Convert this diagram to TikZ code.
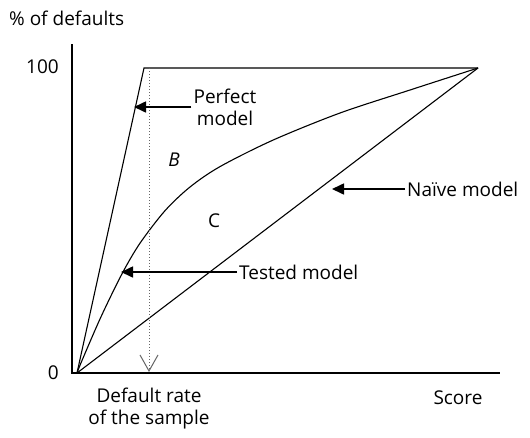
\documentclass[tikz,border=0pt]{standalone}
\usepackage{fontspec}
\setmainfont{Open Sans}
\usetikzlibrary{arrows.meta}

\tikzset{
  line/.style={line width=1.1pt},
  pointer/.style={line width=1.6pt,-{Triangle[length=12pt,width=11pt]}},
  lbl/.style={inner sep=2pt,font=\fontsize{19}{22}\selectfont},
  area/.style={inner sep=0pt,font=\fontsize{19}{22}\selectfont}
}

\begin{document}
\begin{tikzpicture}[x=1pt,y=-1pt]
\useasboundingbox (0,0) rectangle (530,437);

% axes
\coordinate (o) at (72,373);
\coordinate (ytop) at (72,44);
\coordinate (xend) at (500,373);
\draw[line] (ytop) -- (o) -- (xend);

\node[lbl,anchor=west] (ylab) at (7,18) {\% of defaults};
\node[lbl,anchor=east] (yhundred) at (61,67) {100};
\node[lbl,anchor=east] (yzero) at (61,373) {0};
\node[lbl,align=center] (xrate) at (149,409) {Default rate\\of the sample};
\node[lbl] (xscore) at (458,398) {Score};

% models
\coordinate (start) at (77,373);
\coordinate (ptop) at (144,68);
\coordinate (pend) at (478,68);
\draw[line] (start) -- (ptop) -- (pend);
\draw[line] (start) -- (pend);
\draw[line] plot[smooth,tension=0.5] coordinates {(77,373) (82,360.5) (101,316.8) (122,273.8) (140,243.2) (165,210.7) (190,187) (220,166.6) (273,140.1) (340,113) (410,90) (478,68)};

% default rate of the sample
\coordinate (rtop) at (149,68);
\coordinate (rbot) at (149,372);
\draw[line width=1pt,dotted,gray!80!black,-{Straight Barb[length=16pt,width=18pt,line width=1pt]}] (rtop) -- (rbot);

% labels
\node[lbl,align=center] (perfect) at (225,107) {Perfect\\model};
\node[lbl,anchor=west] (tested) at (237,272) {Tested model};
\node[lbl,anchor=west] (naive) at (405,189) {Naïve model};
\node[area,font=\fontsize{19}{22}\selectfont\itshape] (areaB) at (174,160) {B};
\node[area] (areaC) at (214,221) {C};

\coordinate (ppt) at (134,107);
\coordinate (tpt) at (121,272);
\coordinate (npt) at (332,189);
\draw[pointer] (perfect.west) -- (ppt);
\draw[pointer] (tested.west) -- (tpt);
\draw[pointer] (naive.west) -- (npt);
\end{tikzpicture}
\end{document}
